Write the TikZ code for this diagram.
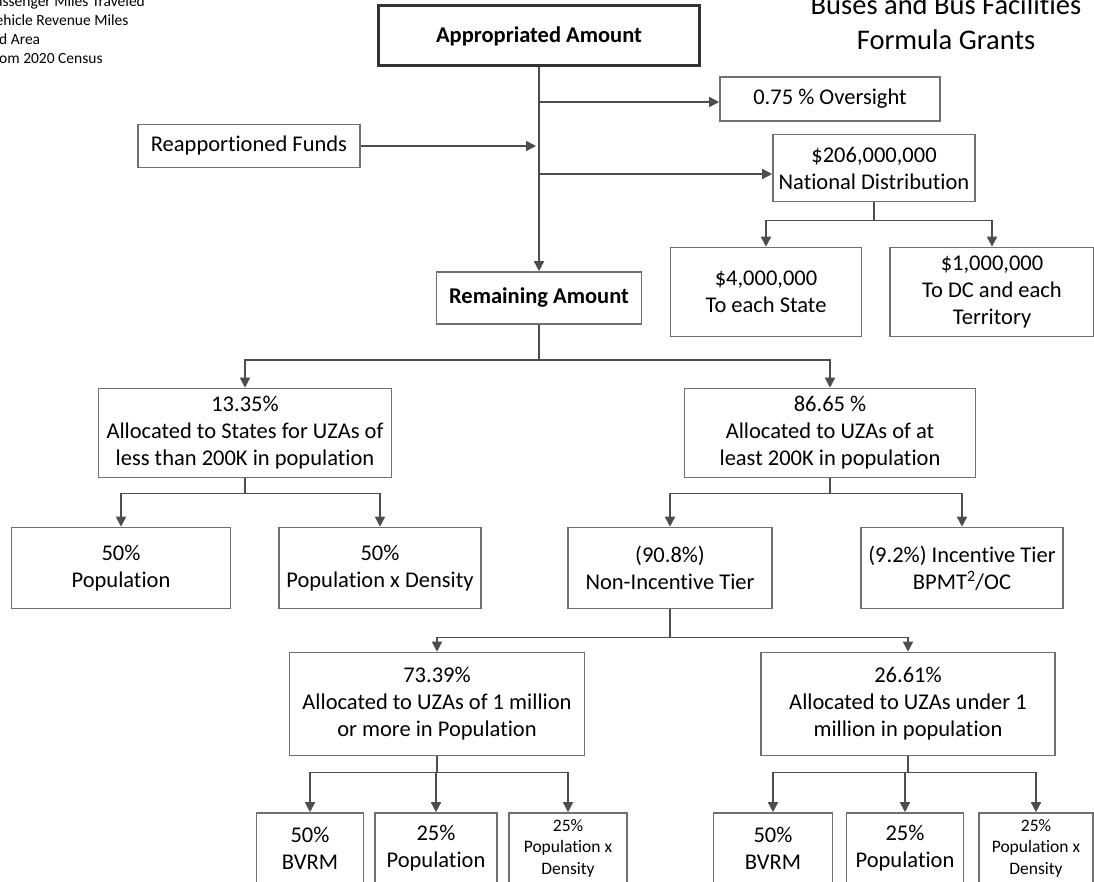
\documentclass[tikz,border=0pt]{standalone}
\usepackage{fontspec}
\setmainfont{Carlito}[Ligatures=NoCommon]
\usetikzlibrary{arrows.meta}
\definecolor{boxline}{HTML}{707070}
\definecolor{arrline}{HTML}{4D4D4D}
\begin{document}
\begin{tikzpicture}[x=1pt,y=-1pt,
	box/.style={draw=boxline,line width=1.6pt,inner sep=0pt,align=center,font=\fontsize{22.5}{27}\selectfont},
	boldbox/.style={box,font=\fontsize{22.5}{27}\selectfont\bfseries},
	topbox/.style={boldbox,draw=black!80,line width=3pt},
	smallbox/.style={box,font=\fontsize{17.5}{21.5}\selectfont},
	title/.style={inner sep=0pt,font=\fontsize{28.5}{35}\selectfont},
	note/.style={inner sep=0pt,font=\fontsize{15.5}{19}\selectfont},
	ln/.style={draw=arrline,line width=1.5pt},
	arr/.style={ln,-{Triangle[length=10pt,width=10pt]}}]
	\useasboundingbox (0,0) rectangle (1094,882);
	% Title and notes
	\node[title,anchor=base] (titleA) at (946,15) {Buses and Bus Facilities};
	\node[title,anchor=base] (titleB) at (946,50) {Formula Grants};
	\node[note,anchor=base west] (noteA) at (-5,7) {assenger Miles Traveled};
	\node[note,anchor=base west] (noteB) at (-4.5,26) {ehicle Revenue Miles};
	\node[note,anchor=base west] (noteC) at (-1,45) {d Area};
	\node[note,anchor=base west] (noteD) at (-1,64) {om 2020 Census};
	% Top
	\node[topbox,minimum width=321pt,minimum height=60pt] (approp) at (539,36) {Appropriated Amount};
	\node[box,minimum width=220pt,minimum height=44pt] (oversight) at (830,99) {0.75 \% Oversight};
	\node[box,minimum width=222pt,minimum height=43pt] (reapp) at (249,146) {Reapportioned Funds};
	\node[box,minimum width=202pt,minimum height=67pt] (natdist) at (874,168) {\$206,000,000\\National Distribution};
	\node[box,minimum width=191pt,minimum height=89pt] (eachstate) at (766,292) {\$4,000,000\\To each State};
	\node[box,minimum width=204pt,minimum height=89pt] (dcterr) at (992,292) {\$1,000,000\\To DC and each\\Territory};
	\node[boldbox,minimum width=205pt,minimum height=52pt] (remain) at (539,298) {Remaining Amount};
	% Split by population
	\node[box,minimum width=293pt,minimum height=89pt] (small) at (245,433) {13.35\%\\Allocated to States for UZAs of\\less than 200K in population};
	\node[box,minimum width=291pt,minimum height=89pt] (large) at (830,433) {86.65 \%\\Allocated to UZAs of at\\least 200K in population};
	\node[box,minimum width=219pt,minimum height=81pt] (pop50) at (121,568) {50\%\\Population};
	\node[box,minimum width=202pt,minimum height=81pt] (popden50) at (380,568) {50\%\\Population x Density};
	\node[box,minimum width=204pt,minimum height=81pt] (nonincent) at (670,568) {(90.8\%)\\Non-Incentive Tier};
	\node[box,minimum width=202pt,minimum height=81pt] (incent) at (962,568) {(9.2\%) Incentive Tier\\BPMT\textsuperscript{2}/OC};
	\node[box,minimum width=295pt,minimum height=103pt] (million) at (437,704) {73.39\%\\Allocated to UZAs of 1 million\\or more in Population};
	\node[box,minimum width=294pt,minimum height=103pt] (under) at (908,704) {26.61\%\\Allocated to UZAs under 1\\million in population};
	% Bottom row
	\node[box,minimum width=107pt,minimum height=70pt] (bvrmL) at (310,848) {50\%\\BVRM};
	\node[box,minimum width=122pt,minimum height=70pt] (popL) at (436,848) {25\%\\Population};
	\node[smallbox,minimum width=118pt,minimum height=70pt] (popdenL) at (568,848) {25\%\\Population x\\Density};
	\node[box,minimum width=119pt,minimum height=70pt] (bvrmR) at (773,848) {50\%\\BVRM};
	\node[box,minimum width=117pt,minimum height=70pt] (popR) at (905,848) {25\%\\Population};
	\node[smallbox,minimum width=114pt,minimum height=70pt] (popdenR) at (1036,848) {25\%\\Population x\\Density};
	% Trunk and side arrows
	\draw[arr] (approp) -- (remain);
	\coordinate (ovend) at ([yshift=-3pt]oversight.west);
	\draw[arr] (approp.south |- ovend) -- (ovend);
	\coordinate (ndend) at ([yshift=-6pt]natdist.west);
	\draw[arr] (approp.south |- ndend) -- (ndend);
	\coordinate (rfend) at ([xshift=-3pt]approp.south |- reapp.east);
	\draw[arr] (reapp) -- (rfend);
	% Splits
	\draw[ln] (natdist.south) -- ++(0,18) coordinate (ndsplit);
	\draw[arr] (ndsplit) -| (eachstate);
	\draw[arr] (ndsplit) -| (dcterr);
	\draw[ln] (remain.south) -- ++(0,35) coordinate (rmsplit);
	\draw[arr] (rmsplit) -| (small);
	\draw[arr] (rmsplit) -| (large);
	\draw[ln] (small.south) -- ++(0,15) coordinate (smsplit);
	\draw[arr] (smsplit) -| (pop50);
	\draw[arr] (smsplit) -| (popden50);
	\draw[ln] (large.south) -- ++(0,15) coordinate (lgsplit);
	\draw[arr] (lgsplit) -| (nonincent);
	\draw[arr] (lgsplit) -| (incent);
	\draw[ln] (nonincent.south) -- ++(0,28) coordinate (nisplit);
	\draw[arr] (nisplit) -| (million);
	\draw[arr] (nisplit) -| (under);
	\draw[ln] (million.south) -- ++(0,16) coordinate (mlsplit);
	\draw[arr] (mlsplit) -| (bvrmL);
	\draw[arr] (mlsplit) -| (popL);
	\draw[arr] (mlsplit) -| (popdenL);
	\draw[ln] (under.south) -- ++(0,16) coordinate (unsplit);
	\draw[arr] (unsplit) -| (bvrmR);
	\draw[arr] (unsplit) -| (popR);
	\draw[arr] (unsplit) -| (popdenR);
\end{tikzpicture}
\end{document}
